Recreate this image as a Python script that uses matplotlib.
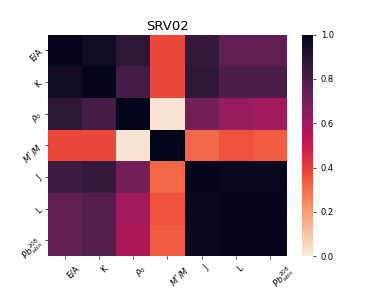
import numpy as np
import matplotlib
matplotlib.use("Agg")
import matplotlib.pyplot as plt
import seaborn as sns

labels = ["E/A", "K", r"$\rho_0$", r"$M^{*}/M$", "J", "L", r"$Pb^{208}_{skin}$"]

# correlation matrix (rows top to bottom)
corr = np.array([
    [1.00, 0.96, 0.88, 0.38, 0.86, 0.75, 0.75],
    [0.96, 1.00, 0.82, 0.38, 0.88, 0.80, 0.80],
    [0.88, 0.82, 1.00, 0.02, 0.70, 0.62, 0.60],
    [0.38, 0.38, 0.02, 1.00, 0.32, 0.36, 0.34],
    [0.84, 0.86, 0.70, 0.32, 1.00, 0.98, 0.98],
    [0.75, 0.78, 0.60, 0.36, 0.98, 1.00, 1.00],
    [0.75, 0.78, 0.58, 0.34, 0.98, 1.00, 1.00],
])

fig, ax = plt.subplots(figsize=(3.85, 2.88), dpi=100)
sns.heatmap(corr, cmap="rocket_r", vmin=0, vmax=1, ax=ax,
            xticklabels=labels, yticklabels=labels)
ax.set_title("SRV02", fontsize=9.5, pad=3)
ax.tick_params(labelsize=6, width=0.5, length=2.1)
plt.setp(ax.get_xticklabels(), rotation=45, ha="left")
plt.setp(ax.get_yticklabels(), rotation=45, ha="right", va="center",
         rotation_mode="anchor")
cbar = ax.collections[0].colorbar
cbar.ax.tick_params(labelsize=6, width=0.5, length=2.1)

fig.savefig("out.png", dpi=100)
